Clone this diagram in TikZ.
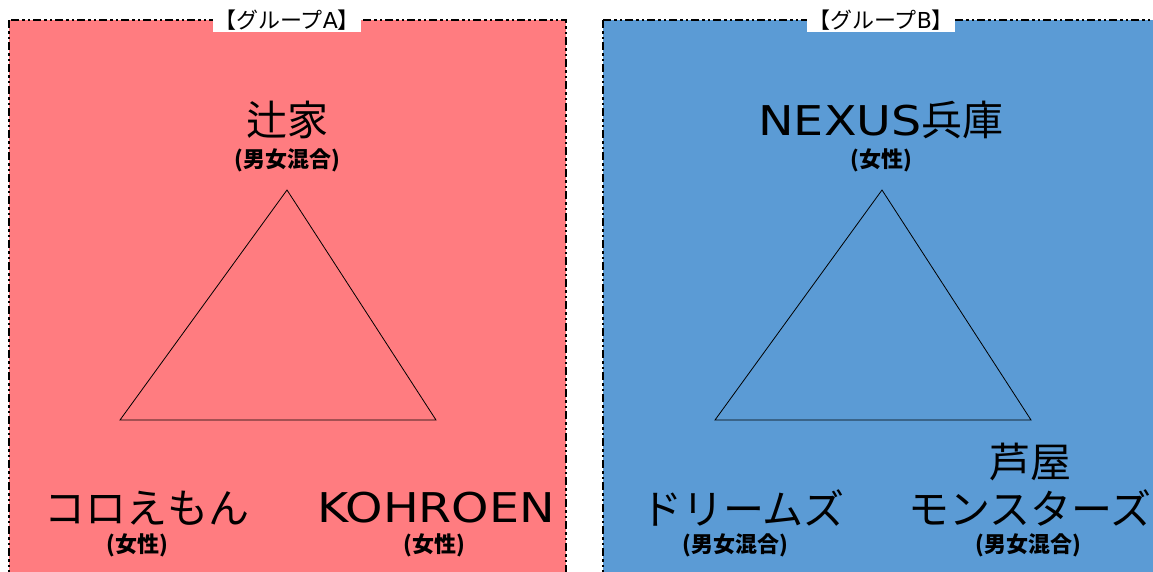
\documentclass[tikz,border=0pt]{standalone}
\usepackage{fontspec}
\usepackage{graphicx}
\setmainfont{Noto Sans CJK JP}
\newfontfamily\latin{DejaVu Sans}
\newcommand\wideword[1]{\scalebox{1.16}[1]{\latin #1}}
\definecolor{groupA}{HTML}{FF7C80}
\definecolor{groupB}{HTML}{5B9BD5}

\begin{document}
\begin{tikzpicture}[x=1pt,y=-1pt,
  team/.style={font=\fontsize{41}{46}\selectfont,inner sep=0pt},
  kind/.style={font=\fontsize{22}{26}\selectfont\bfseries,inner sep=0pt},
  title/.style={fill=white,inner sep=1.5pt,font=\fontsize{22}{26}\selectfont},
  frame/.style={line width=2.5pt,dash pattern=on 8pt off 3pt on 2.5pt off 3pt on 2.5pt off 3pt}]
  \useasboundingbox (0,0) rectangle (1153,571);
  \clip (0,0) rectangle (1153,571);
  % groups
  \draw[frame,fill=groupA] (9,20) rectangle (566,590);
  \draw[frame,fill=groupB] (603,20) rectangle (1170,590);
  \node[title] (ga) at (287,20) {【グループ{\latin A}】};
  \node[title] (gb) at (881,20) {【グループ{\latin B}】};
  % group A
  \node[team] (tsuji) at (287,120) {辻家};
  \node[kind] (tsujik) at (287,160) {(男女混合)};
  \node[team] (koro) at (147,508) {コロえもん};
  \node[kind] (korok) at (137,545) {(女性)};
  \node[team] (kohr) at (436,508) {\wideword{KOHROEN}};
  \node[kind] (kohrk) at (434,545) {(女性)};
  \coordinate (a1) at (287,190);
  \coordinate (a2) at (120,420);
  \coordinate (a3) at (436,420);
  \draw[line width=0.8pt] (a1) -- (a2) -- (a3) -- cycle;
  % group B
  \node[team] (nexus) at (881,120) {\wideword{NEXUS}兵庫};
  \node[kind] (nexusk) at (881,160) {(女性)};
  \node[team] (dream) at (743,508) {ドリームズ};
  \node[kind] (dreamk) at (735,545) {(男女混合)};
  \node[team] (ashiya) at (1030,462) {芦屋};
  \node[team] (monst) at (1030,508) {モンスターズ};
  \node[kind] (monstk) at (1028,545) {(男女混合)};
  \coordinate (b1) at (882,190);
  \coordinate (b2) at (715,420);
  \coordinate (b3) at (1031,420);
  \draw[line width=0.8pt] (b1) -- (b2) -- (b3) -- cycle;
\end{tikzpicture}
\end{document}
